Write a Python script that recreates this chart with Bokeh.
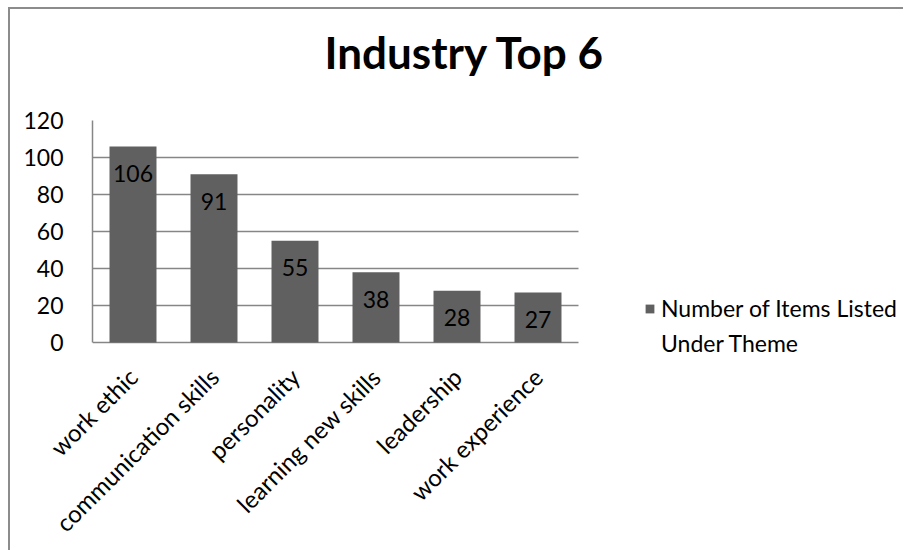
from bokeh.plotting import figure
from bokeh.models import ColumnDataSource, Legend, LegendItem, Range1d, Title
from bokeh.core.properties import value
from bokeh.embed import file_html
from bokeh.resources import INLINE
import math

categories = ["work ethic", "communication skills", "personality",
              "learning new skills", "leadership", "work experience"]
counts = [106, 91, 55, 38, 28, 27]
y_ticks = [0, 20, 40, 60, 80, 100, 120]
series_name_lines = ["Number of Items Listed", "Under Theme"]
title_text = "Industry Top 6"

FONT = "Lato"
GRAY = "#868686"
BAR = "#606060"

n = len(categories)
xpos = [i + 0.5 for i in range(n)]
src = ColumnDataSource(dict(x=xpos, val=counts, lab=[str(v) for v in counts]))

# plot frame: 81 px per category, also covering the legend area on the right
FRAME_W, FRAME_H = 811, 242
PX_PER_CAT = 81
PX_PER_UNIT = 1.85
p = figure(title=None, frame_width=FRAME_W, frame_height=FRAME_H,
           x_range=Range1d(0, FRAME_W / PX_PER_CAT),
           y_range=Range1d(120 - FRAME_H / PX_PER_UNIT, 120),
           output_backend="svg", toolbar_location=None,
           min_border_left=82, min_border_right=0,
           min_border_top=111, min_border_bottom=185,
           styles={"border-left": "2px solid #8c8c8c",
                   "border-top": "2px solid #8c8c8c",
                   "margin-left": "8px", "margin-top": "7px"})

r = p.vbar(x="x", top="val", width=0.58, source=src,
           fill_color=BAR, line_color=None)
blank = p.vbar(x="x", top="val", width=0.58, source=src,
               fill_alpha=0, line_alpha=0)

p.text(x="x", y="val", text="lab", source=src,
       text_font=value(FONT), text_font_size="23px", text_color="#000000",
       text_align="center", text_baseline="alphabetic", y_offset=27)

# title: an empty spacer next to the frame, then the real title above it
spacer = Title(text=" ", text_font_size="10px", standoff=30)
p.add_layout(spacer, "above")
main_title = Title(text=title_text, text_font=FONT, text_font_size="44px",
                   text_font_style="bold", text_color="#000000",
                   align="left", offset=232, vertical_align="bottom",
                   standoff=0)
p.add_layout(main_title, "above")

# y axis
p.yaxis.ticker = y_ticks
p.yaxis.bounds = (0, 120)
p.yaxis.major_label_text_font = FONT
p.yaxis.major_label_text_font_size = "23px"
p.yaxis.major_label_text_color = "#000000"
p.yaxis.axis_line_color = GRAY
p.yaxis.axis_line_width = 1.5
p.yaxis.major_tick_line_color = None
p.yaxis.minor_tick_line_color = None
p.yaxis.major_label_standoff = 23

# x axis (category labels); the baseline is the y=0 grid line
p.xaxis.ticker = xpos
p.xaxis.major_label_overrides = {x: c for x, c in zip(xpos, categories)}
p.xaxis.major_label_orientation = math.pi / 4
p.xaxis.major_label_text_font = FONT
p.xaxis.major_label_text_font_size = "24px"
p.xaxis.major_label_text_color = "#000000"
p.xaxis.axis_line_color = None
p.xaxis.major_tick_line_color = None
p.xaxis.minor_tick_line_color = None
p.xaxis.major_label_standoff = 4

p.xgrid.grid_line_color = None
p.ygrid.grid_line_color = GRAY
p.ygrid.grid_line_width = 1.5
p.ygrid.cross_bounds = (0, n)
p.outline_line_color = None
p.background_fill_color = "white"
p.border_fill_color = "white"

legend = Legend(items=[LegendItem(label=series_name_lines[0], renderers=[r]),
                       LegendItem(label=series_name_lines[1], renderers=[blank])],
                location=(552, 4), border_line_color=None,
                background_fill_alpha=0, label_text_font=FONT,
                label_text_font_size="23px", label_text_color="#000000",
                glyph_width=11, glyph_height=11, padding=0, margin=0,
                label_standoff=6, label_height=30, spacing=5)
p.add_layout(legend, "center")

open("out.html", "w").write(file_html(p, INLINE))
